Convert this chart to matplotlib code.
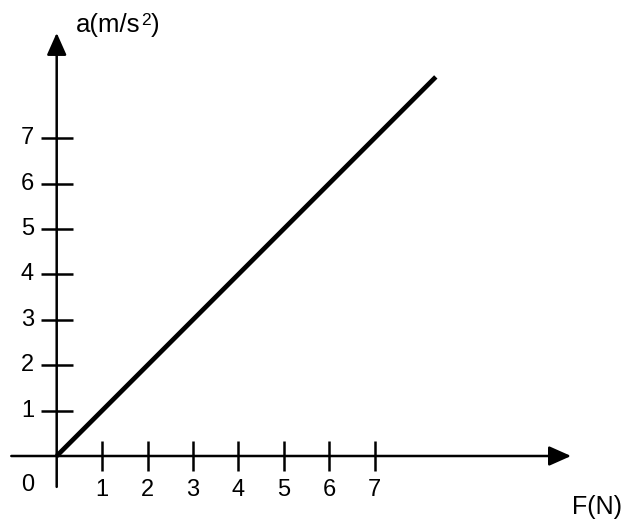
import matplotlib
matplotlib.use('Agg')
import matplotlib.pyplot as plt
from matplotlib.patches import FancyArrowPatch

plt.rcParams['font.family'] = ['Liberation Sans', 'DejaVu Sans']

# 데이터: a = F
force = [0, 8.35]
accel = [0, 8.35]
x_ticks = [1, 2, 3, 4, 5, 6, 7]
y_ticks = [1, 2, 3, 4, 5, 6, 7]

unit = 45.4  # 1칸 = 픽셀
ox, oy = 56.7, 456

fig = plt.figure(figsize=(6.29, 5.23), dpi=100)
ax = fig.add_axes([0, 0, 1, 1])
ax.set_xlim(-ox / unit, (629 - ox) / unit)
ax.set_ylim(-(523 - oy) / unit, oy / unit)
ax.axis('off')

# 축 화살표
arr = dict(arrowstyle='-|>,head_length=13.5,head_width=6', mutation_scale=1,
           lw=1.8, color='black', shrinkA=0, shrinkB=0)
ax.add_patch(FancyArrowPatch((-1.0, 0), (11.33, 0), **arr))
ax.add_patch(FancyArrowPatch((0, -0.68), (0, 9.32), **arr))

# 눈금
for t in x_ticks:
    ax.plot([t, t], [-0.33, 0.33], color='black', lw=1.8, solid_capstyle='butt')
    ax.text(t, -0.75, str(t), ha='center', va='center', fontsize=17)
for t in y_ticks:
    ax.plot([-0.35, 0.35], [t, t], color='black', lw=1.8, solid_capstyle='butt')
    ax.text(-0.5, t, str(t), ha='right', va='center', fontsize=17)
ax.text(-0.64, -0.64, '0', ha='center', va='center', fontsize=17)

# 그래프
ax.plot(force, accel, color='black', lw=3.4, solid_capstyle='butt')

# 축 이름
ax.text(0.425, 9.333, 'a(m/s', ha='left', va='baseline', fontsize=18.5)
ax.text(1.87, 9.50, '2', ha='left', va='baseline', fontsize=12.5)
ax.text(2.08, 9.333, ')', ha='left', va='baseline', fontsize=18.5)
ax.text(11.35, -1.278, 'F(N)', ha='left', va='baseline', fontsize=18)

fig.savefig('out.png', dpi=100)
